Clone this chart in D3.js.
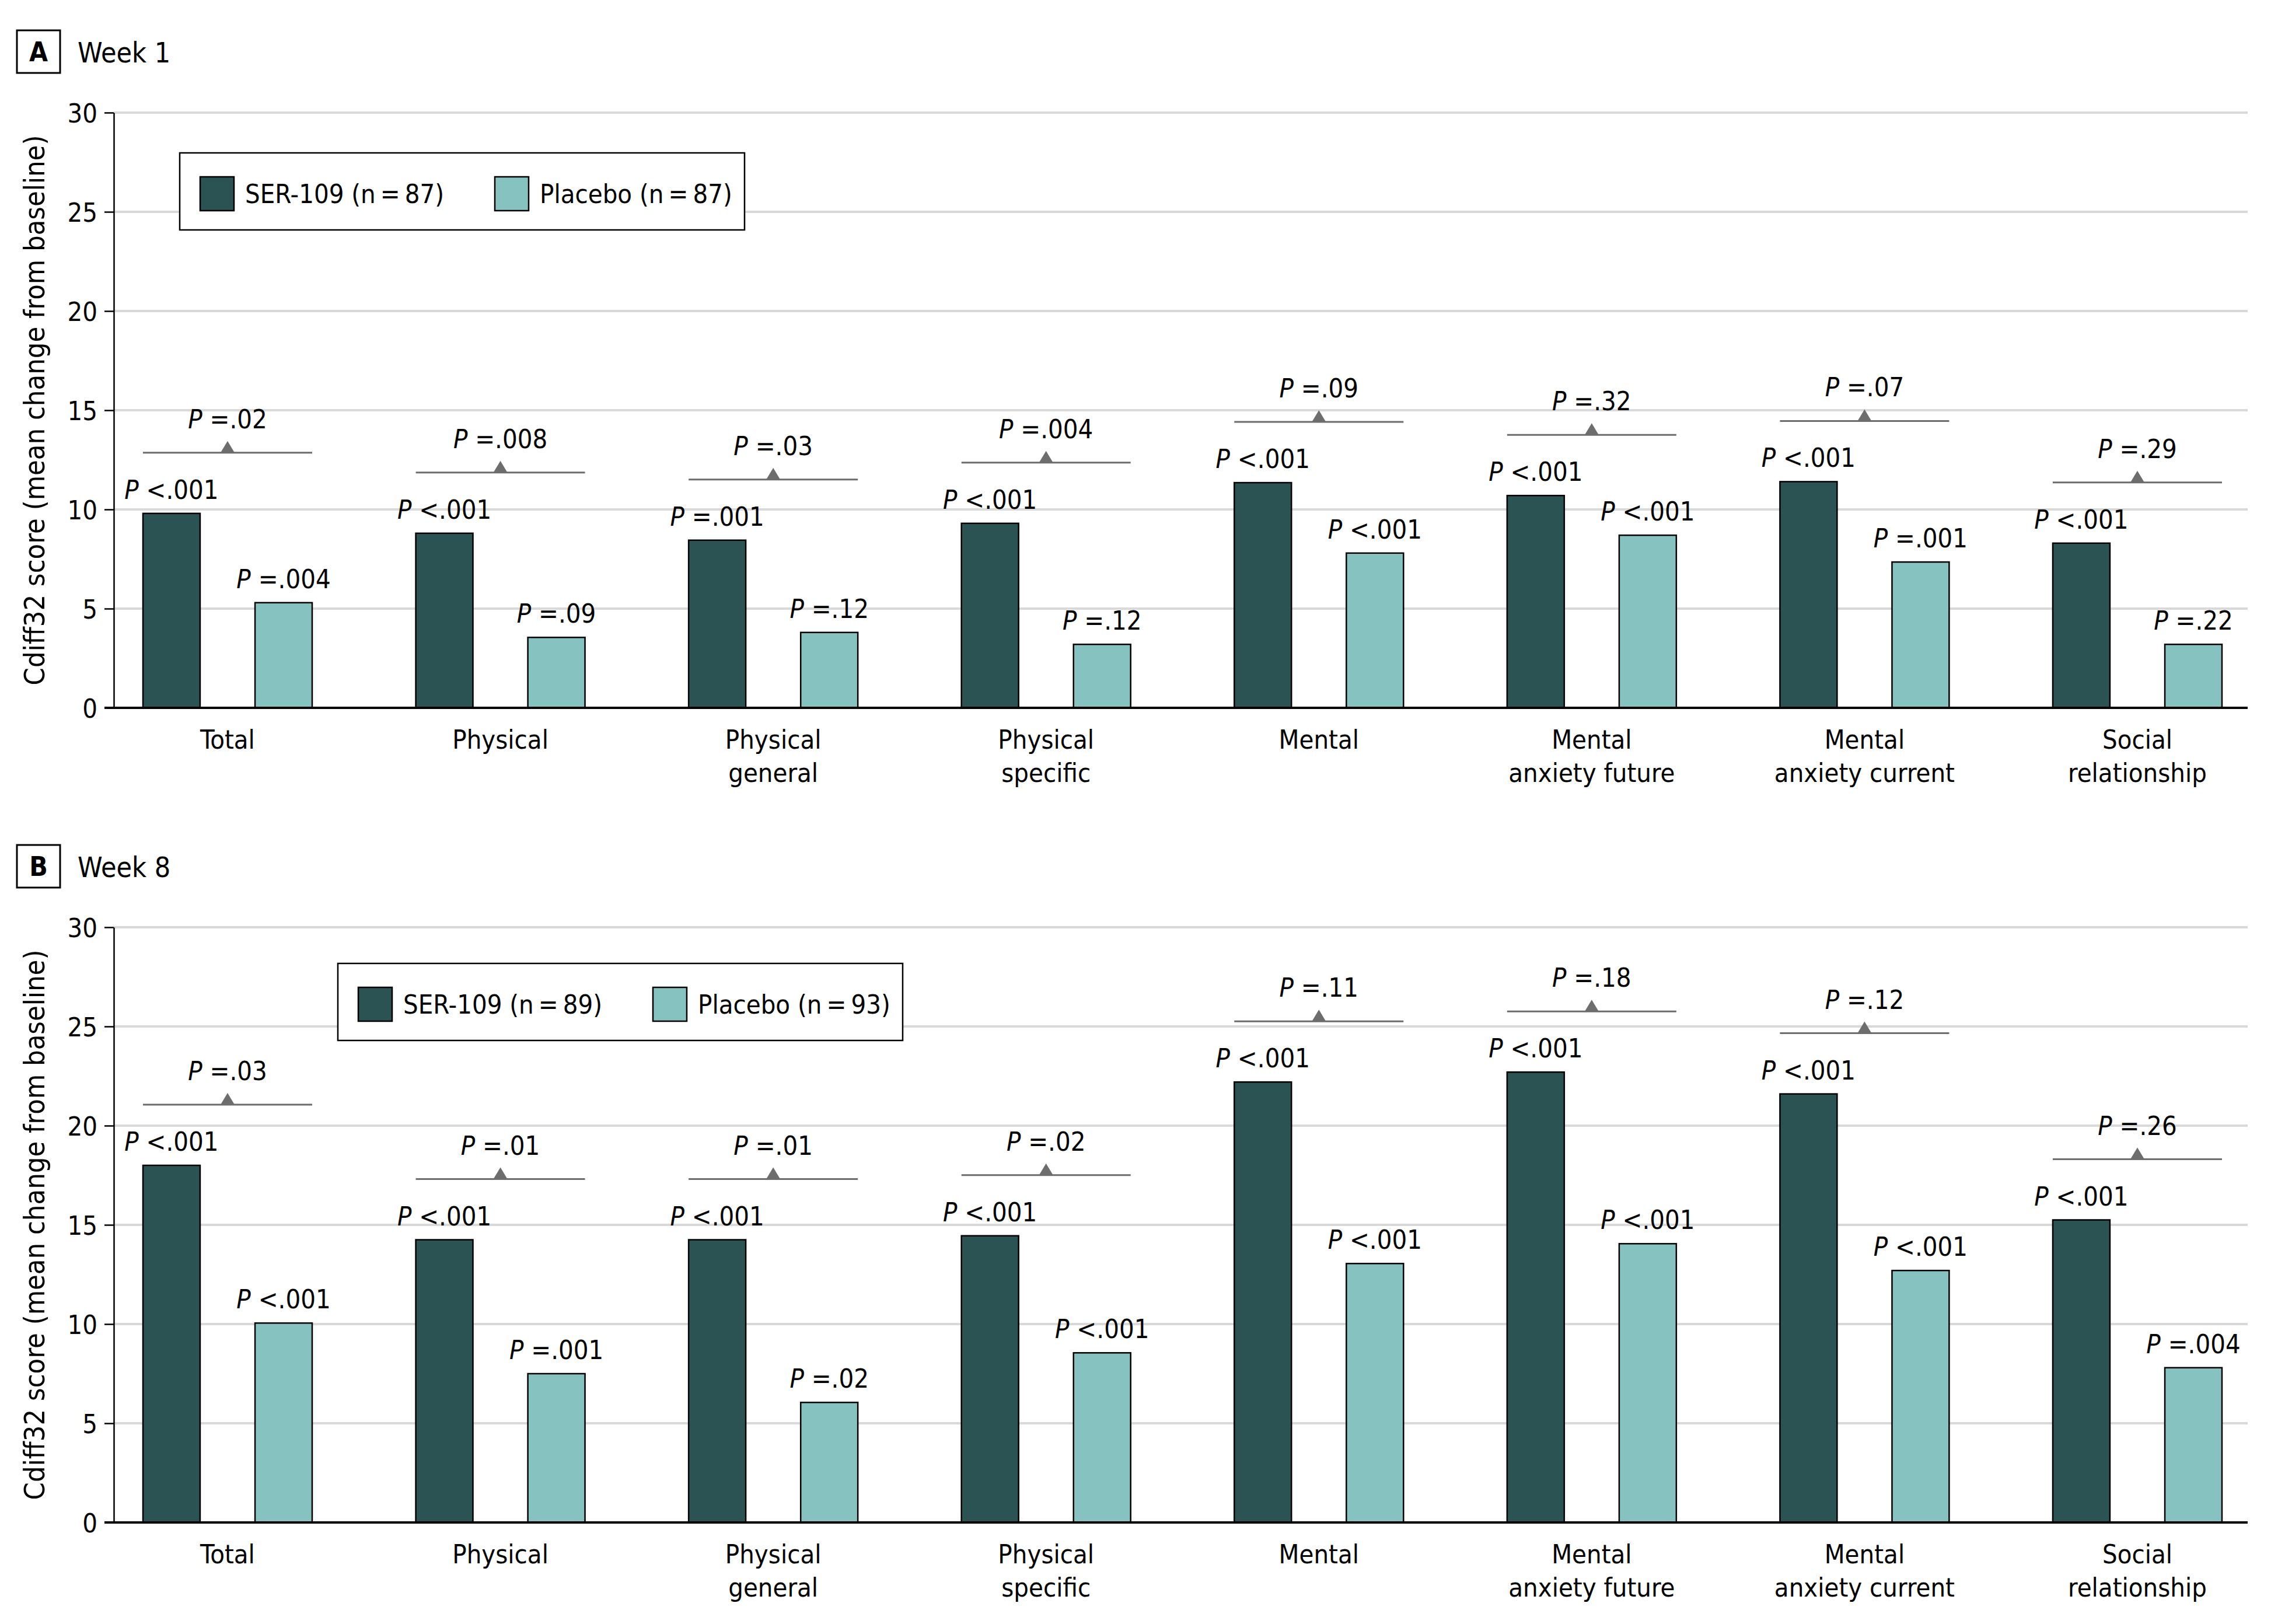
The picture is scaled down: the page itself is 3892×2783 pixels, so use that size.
<!DOCTYPE html>
<html><head><meta charset="utf-8">
<script src="https://cdn.jsdelivr.net/npm/d3@7"></script>
<style>
body{margin:0;background:#fff;}
svg text{font-family:"DejaVu Sans Condensed","DejaVu Sans",sans-serif;font-stretch:condensed;fill:#000;}
</style></head><body>
<svg id="chart" width="3892" height="2783"></svg>
<script>
// ---------- data ----------
const categories = ["Total","Physical","Physical general","Physical specific","Mental","Mental anxiety future","Mental anxiety current","Social relationship"];
const categoryLabelLines = [["Total"],["Physical"],["Physical","general"],["Physical","specific"],["Mental"],["Mental","anxiety future"],["Mental","anxiety current"],["Social","relationship"]];
const seriesNames = ["SER-109","Placebo"];
const yTicks = [0,5,10,15,20,25,30];
const yTitle = "Cdiff32 score (mean change from baseline)";

const week1SER     = [9.8, 8.8, 8.45, 9.3, 11.35, 10.7, 11.4, 8.3];
const week1Placebo = [5.3, 3.55, 3.8, 3.2, 7.8, 8.7, 7.35, 3.2];
const week1SerP     = ["<.001","<.001","=.001","<.001","<.001","<.001","<.001","<.001"];
const week1PlaceboP = ["=.004","=.09","=.12","=.12","<.001","<.001","=.001","=.22"];
const week1CompareP = ["=.02","=.008","=.03","=.004","=.09","=.32","=.07","=.29"];
const week1Legend   = ["SER-109 (n\u2009=\u200987)","Placebo (n\u2009=\u200987)"];

const week8SER     = [18.0, 14.25, 14.25, 14.45, 22.2, 22.7, 21.6, 15.25];
const week8Placebo = [10.05, 7.5, 6.05, 8.55, 13.05, 14.05, 12.7, 7.8];
const week8SerP     = ["<.001","<.001","<.001","<.001","<.001","<.001","<.001","<.001"];
const week8PlaceboP = ["<.001","=.001","=.02","<.001","<.001","<.001","<.001","=.004"];
const week8CompareP = ["=.03","=.01","=.01","=.02","=.11","=.18","=.12","=.26"];
const week8Legend   = ["SER-109 (n\u2009=\u200989)","Placebo (n\u2009=\u200993)"];

// ---------- styles ----------
const colors = {"SER-109":"#2b5354","Placebo":"#86c2c0"};
const gridColor = "#d9d9d9", bracketColor = "#6d6d6d";
const FS = 45;

const svg = d3.select("#chart");
svg.append("rect").attr("width",3892).attr("height",2783).attr("fill","#fff");

const panels = [
  {letter:"A", title:"Week 1", ser:week1SER, pla:week1Placebo, serP:week1SerP, plaP:week1PlaceboP, cmpP:week1CompareP, legend:week1Legend, top:193, bottom:1213, legendX:308, legendY:262},
  {letter:"B", title:"Week 8", ser:week8SER, pla:week8Placebo, serP:week8SerP, plaP:week8PlaceboP, cmpP:week8CompareP, legend:week8Legend, top:1589, bottom:2609, legendX:579, legendY:1651}
];

const X0 = 195, X1 = 3852;

function pText(g, x, y, rest){
  const t = g.append("text").attr("x",x).attr("y",y).attr("text-anchor","middle").attr("font-size",FS);
  t.append("tspan").attr("font-style","italic").text("P");
  t.append("tspan").text(" " + rest);
  return t;
}

panels.forEach(p => {
  const g = svg.append("g");
  const y = d3.scaleLinear().domain([0,30]).range([p.bottom, p.top]);
  const x = d3.scalePoint().domain(categories).range([390, 3663]);
  const xs = d3.scaleBand().domain(seriesNames).range([-145,145]).paddingInner(0.49);
  const bw = xs.bandwidth();

  // panel label
  g.append("rect").attr("x",29).attr("y",p.top-141).attr("width",74).attr("height",73)
    .attr("fill","none").attr("stroke","#000").attr("stroke-width",3);
  g.append("text").attr("x",66).attr("y",p.top-88).attr("text-anchor","middle")
    .attr("font-size",46).attr("font-weight","bold").text(p.letter);
  g.append("text").attr("x",133).attr("y",p.top-86).attr("font-size",48).text(p.title);

  // gridlines
  g.append("g").selectAll("line").data(yTicks.filter(d=>d>0)).join("line")
    .attr("x1",X0).attr("x2",X1).attr("y1",d=>y(d)).attr("y2",d=>y(d))
    .attr("stroke",gridColor).attr("stroke-width",4);

  // y axis
  const ya = g.append("g").attr("transform",`translate(${X0},0)`)
    .call(d3.axisLeft(y).tickValues(yTicks).tickSize(16).tickSizeOuter(0).tickPadding(12));
  ya.select(".domain").attr("stroke","#000").attr("stroke-width",2.5);
  ya.selectAll(".tick line").attr("stroke","#000").attr("stroke-width",2.5);
  ya.selectAll(".tick text").attr("font-size",FS).attr("font-family",null).attr("fill","#000").attr("dy","0.36em");
  ya.attr("font-family",null).attr("font-size",null);

  // y title
  const yt = g.append("text").attr("text-anchor","middle")
    .attr("transform",`translate(76,${(p.top+p.bottom)/2}) rotate(-90)`)
    .attr("font-size",50).text(yTitle);
  const L = yt.node().getComputedTextLength();
  yt.attr("font-size", 50*943/L);

  // legend
  const lg = g.append("g").attr("transform",`translate(${p.legendX},${p.legendY})`);
  lg.append("rect").attr("width",968).attr("height",132).attr("fill","#fff").attr("stroke","#000").attr("stroke-width",2.5);
  const lx = [35, 540];
  seriesNames.forEach((s,i)=>{
    lg.append("rect").attr("x",lx[i]).attr("y",41).attr("width",58).attr("height",58)
      .attr("fill",colors[s]).attr("stroke","#000").attr("stroke-width",2.5);
    lg.append("text").attr("x",lx[i]+77).attr("y",86).attr("font-size",FS).text(p.legend[i]);
  });

  // bars
  const rows = categories.map((c,i)=>({c, i, vals:[{s:"SER-109", v:p.ser[i], pv:p.serP[i]},{s:"Placebo", v:p.pla[i], pv:p.plaP[i]}]}));
  rows.forEach(r=>{
    r.vals.forEach(d=>{
      g.append("rect").attr("x",x(r.c)+xs(d.s)).attr("width",bw)
        .attr("y",y(d.v)).attr("height",y(0)-y(d.v))
        .attr("fill",colors[d.s]).attr("stroke","#000").attr("stroke-width",2.5);
      pText(g, x(r.c)+xs(d.s)+bw/2, y(d.v)-25, d.pv);
    });
    // comparison bracket
    const by = y(d3.max(r.vals,d=>d.v)) - 104;
    const bx1 = x(r.c)+xs("SER-109"), bx2 = x(r.c)+xs("Placebo")+bw;
    g.append("line").attr("x1",bx1).attr("x2",bx2).attr("y1",by).attr("y2",by)
      .attr("stroke",bracketColor).attr("stroke-width",3);
    const cx = x(r.c);
    g.append("path").attr("d",`M${cx-12},${by}L${cx},${by-20}L${cx+12},${by}Z`).attr("fill",bracketColor);
    pText(g, cx, by-42, p.cmpP[r.i]);
  });

  // baseline
  g.append("line").attr("x1",X0-16).attr("x2",X1).attr("y1",y(0)).attr("y2",y(0))
    .attr("stroke","#000").attr("stroke-width",4);

  // x labels
  categories.forEach((c,i)=>{
    const t = g.append("text").attr("text-anchor","middle").attr("font-size",FS);
    categoryLabelLines[i].forEach((ln,k)=>{
      t.append("tspan").attr("x",x(c)).attr("y",p.bottom+70+k*57).text(ln);
    });
  });
});
</script>
</body></html>
